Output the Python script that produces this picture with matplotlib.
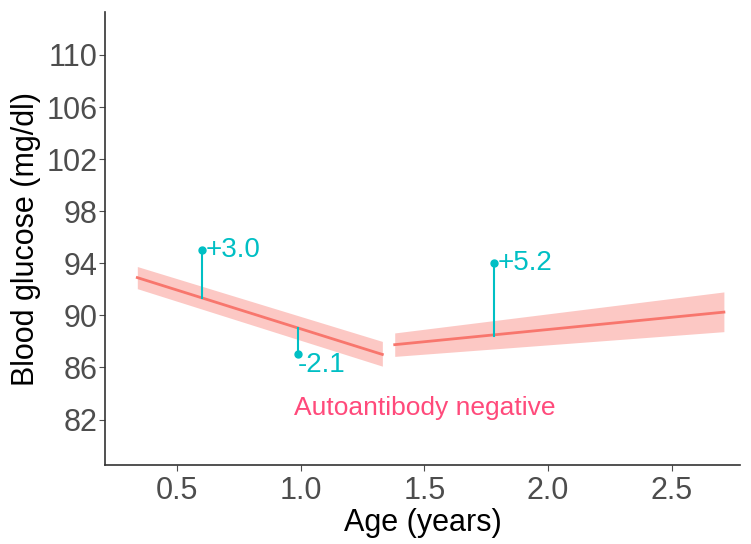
import numpy as np
import matplotlib.pyplot as plt

plt.rcParams['font.family'] = ['Liberation Sans', 'DejaVu Sans']

# fitted segments (age, fit, lower, upper)
seg1_age = [0.34, 1.33]
seg1_fit = [92.9, 87.0]
seg1_lo = [92.05, 86.1]
seg1_hi = [93.75, 88.0]

seg2_age = [1.38, 2.71]
seg2_fit = [87.75, 90.25]
seg2_lo = [86.85, 88.75]
seg2_hi = [88.65, 91.8]

# individual deviations
pt_age = [0.6, 0.99, 1.78]
pt_val = [95.0, 87.0, 94.0]
pt_base = [91.35, 89.05, 88.4]
pt_lab = ["+3.0", "-2.1", "+5.2"]

red = "#F8766D"
teal = "#00BFC4"

fig = plt.figure(figsize=(7.51, 5.44), dpi=100)
ax = fig.add_axes([0.14, 0.145, 0.845, 0.833])

for a, f, lo, hi in [(seg1_age, seg1_fit, seg1_lo, seg1_hi),
                     (seg2_age, seg2_fit, seg2_lo, seg2_hi)]:
    ax.fill_between(a, lo, hi, color=red, alpha=0.4, linewidth=0)
    ax.plot(a, f, color=red, lw=2)

for x, v, b, lab in zip(pt_age, pt_val, pt_base, pt_lab):
    ax.plot([x, x], [b, v], color=teal, lw=1.5)
    ax.plot(x, v, 'o', color=teal, ms=5)
    if v < b:
        ax.text(x, v + 0.2, lab, color=teal, fontsize=20, ha='left', va='top')
    else:
        ax.text(x + 0.015, v, lab, color=teal, fontsize=20, ha='left', va='center')

ax.text(1.5, 82.9, "Autoantibody negative", color="#FF4A7B", fontsize=19,
        ha='center', va='center')

ax.set_xlim(0.21, 2.774)
ax.set_ylim(78.5, 113.3)
ax.set_xticks([0.5, 1.0, 1.5, 2.0, 2.5])
ax.set_yticks([82, 86, 90, 94, 98, 102, 106, 110])
ax.tick_params(labelsize=22, colors="#4D4D4D", length=4)
ax.tick_params(axis='y', pad=1.5)
ax.set_xlabel("Age (years)", fontsize=22, labelpad=2)
ax.set_ylabel("Blood glucose (mg/dl)", fontsize=22, labelpad=4)
for s in ['top', 'right']:
    ax.spines[s].set_visible(False)
for s in ['left', 'bottom']:
    ax.spines[s].set_color("#333333")
    ax.spines[s].set_linewidth(1.2)

fig.savefig("out.png", dpi=100)
